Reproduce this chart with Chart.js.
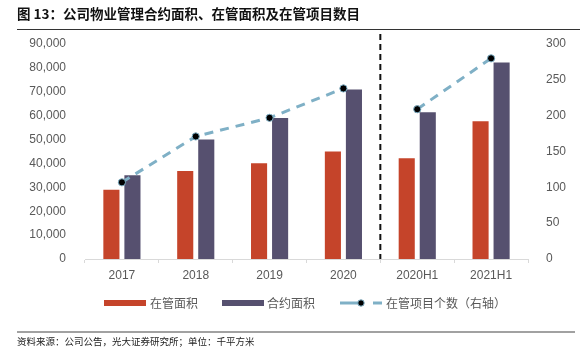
<!DOCTYPE html>
<html><head><meta charset="utf-8">
<script src="https://cdn.jsdelivr.net/npm/chart.js@4/dist/chart.umd.min.js"></script>
<style>html,body{margin:0;padding:0;background:#fff;}#wrap{width:580px;height:360px;position:relative;}</style>
</head><body><div id="wrap"><canvas id="c" width="580" height="360"></canvas></div>
<script>
const categories = ['2017','2018','2019','2020','2020H1','2021H1'];
const managedArea = [29400, 37300, 40500, 45400, 42600, 58100];
const contractArea = [35500, 50400, 59400, 71400, 61900, 82700];
const projectCount = [107, 171, 197, 238, 209, 280];
const leftTicks = [0,10000,20000,30000,40000,50000,60000,70000,80000,90000];
const rightTicks = [0,50,100,150,200,250,300];
const titleText = '图 13：公司物业管理合约面积、在管面积及在管项目数目';
const sourceText = '资料来源：公司公告，光大证券研究所；单位：千平方米';
const seriesNames = ['在管面积','合约面积','在管项目个数（右轴）'];

const RED='#C5442A', PURPLE='#56506F', BLUE='#7FB0C6', GRAY='#595959';
const CJK = '"Noto Sans CJK SC", sans-serif';

const decor = {
  id:'decor',
  afterDatasetsDraw(chart){
    const ctx = chart.ctx, x = chart.scales.x, a = chart.chartArea;
    const xd = (x.getPixelForValue(3)+x.getPixelForValue(4))/2;
    ctx.save();
    ctx.strokeStyle='#111'; ctx.lineWidth=2; ctx.setLineDash([6,4]);
    ctx.beginPath(); ctx.moveTo(xd,34); ctx.lineTo(xd,a.bottom); ctx.stroke();
    ctx.restore();
  },
  afterDraw(chart){
    const ctx = chart.ctx;
    ctx.save();
    ctx.fillStyle='#111'; ctx.font='bold 13.5px '+CJK; ctx.textBaseline='middle'; ctx.textAlign='left';
    ctx.fillText(titleText,17,14);
    ctx.strokeStyle='#333'; ctx.lineWidth=1.2;
    ctx.beginPath(); ctx.moveTo(17,29.5); ctx.lineTo(580,29.5); ctx.stroke();
    ctx.strokeStyle='#444'; ctx.lineWidth=1.2;
    ctx.beginPath(); ctx.moveTo(17,332); ctx.lineTo(575,332); ctx.stroke();
    ctx.fillStyle='#222'; ctx.font='9.5px '+CJK;
    ctx.fillText(sourceText,17,341);
    const ly=303;
    ctx.font='12px '+CJK;
    ctx.fillStyle=RED; ctx.fillRect(104,ly-3,42,6);
    ctx.fillStyle=GRAY; ctx.fillText(seriesNames[0],150,ly);
    ctx.fillStyle=PURPLE; ctx.fillRect(222,ly-3,42,6);
    ctx.fillStyle=GRAY; ctx.fillText(seriesNames[1],267,ly);
    ctx.strokeStyle=BLUE; ctx.lineWidth=3;
    ctx.beginPath(); ctx.moveTo(340,ly); ctx.lineTo(358,ly); ctx.stroke();
    ctx.beginPath(); ctx.moveTo(373,ly); ctx.lineTo(382,ly); ctx.stroke();
    ctx.beginPath(); ctx.arc(361,ly,3.2,0,Math.PI*2); ctx.fillStyle='#000'; ctx.fill();
    ctx.lineWidth=1; ctx.strokeStyle=BLUE; ctx.stroke();
    ctx.fillStyle=GRAY; ctx.fillText(seriesNames[2],386,ly);
    ctx.restore();
  }
};

new Chart(document.getElementById('c'), {
  type:'bar',
  data:{
    labels:categories,
    datasets:[
      {label:seriesNames[0], data:managedArea, backgroundColor:RED, borderColor:'rgba(255,255,255,0.5)', borderWidth:1, yAxisID:'y', order:2,
       categoryPercentage:0.57, barPercentage:0.86},
      {label:seriesNames[1], data:contractArea, backgroundColor:PURPLE, borderColor:'rgba(255,255,255,0.5)', borderWidth:1, yAxisID:'y', order:2,
       categoryPercentage:0.57, barPercentage:0.86},
      {type:'line', label:seriesNames[2], data:projectCount, yAxisID:'y1', order:1,
       borderColor:BLUE, borderWidth:3, borderDash:[9,7], fill:false, tension:0,
       pointRadius:3.6, pointBackgroundColor:'#000', pointBorderColor:BLUE, pointBorderWidth:1,
       segment:{borderColor: c => c.p0DataIndex===3 ? 'rgba(0,0,0,0)' : BLUE}}
    ]
  },
  options:{
    responsive:false, animation:false, devicePixelRatio:1,
    layout:{padding:{top:44,left:0,right:0,bottom:0}},
    plugins:{legend:{display:false}, tooltip:{enabled:false}, title:{display:false}},
    scales:{
      x:{
        grid:{display:true, drawOnChartArea:false, drawTicks:true, tickLength:4, color:'#d9d9d9', offset:true},
        border:{display:true, color:'#d9d9d9', width:1},
        ticks:{color:GRAY, font:{family:'"Liberation Sans", Arial, sans-serif', size:12}, padding:5, maxRotation:0},
        afterFit(s){ s.height = 101; }
      },
      y:{
        position:'left', min:0, max:90000,
        afterBuildTicks(s){ s.ticks = leftTicks.map(v=>({value:v})); },
        grid:{display:false}, border:{display:false},
        ticks:{color:GRAY, font:{family:'"Liberation Sans", Arial, sans-serif', size:12}, padding:11,
          callback:v=>v.toLocaleString('en-US')},
        afterFit(s){ s.width = 85; }
      },
      y1:{
        position:'right', min:0, max:300,
        afterBuildTicks(s){ s.ticks = rightTicks.map(v=>({value:v})); },
        grid:{display:false}, border:{display:false},
        ticks:{color:GRAY, font:{family:'"Liberation Sans", Arial, sans-serif', size:12}, padding:10},
        afterFit(s){ s.width = 52; }
      }
    }
  },
  plugins:[decor]
});
</script></body></html>
